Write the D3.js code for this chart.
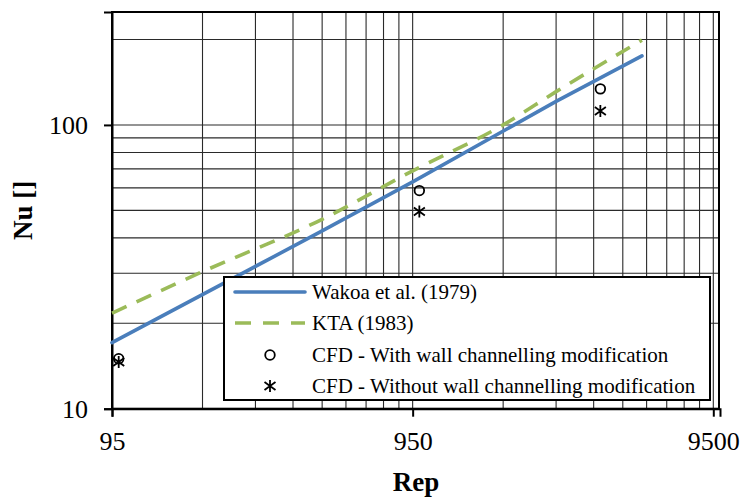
<!DOCTYPE html>
<html>
<head>
<meta charset="utf-8">
<script src="https://cdn.jsdelivr.net/npm/d3@7"></script>
<style>
  html, body { margin: 0; padding: 0; background: #fff; }
  svg { display: block; font-family: "Liberation Serif", "Times New Roman", serif; }
</style>
</head>
<body>
<svg id="chart" width="741" height="498"></svg>
<script>
// Nusselt number vs particle Reynolds number (log-log)
const wakaoRe = [95, 475, 950, 2850, 5500];
const wakaoNu = [17.1, 42.3, 63, 121, 175];

const ktaRe = [95, 190, 475, 950, 1900, 2850, 5500];
const ktaNu = [21.7, 30.4, 46.5, 68.9, 100, 131, 199];

const cfdRe = [100, 1000, 4000];
const cfdWithNu = [15.0, 58.7, 134];
const cfdWithoutNu = [14.6, 49.5, 112];

const xTicks = [95, 950, 9500];
const yTicks = [10, 100];
const xGrid = [1, 2, 3, 4, 5, 6, 7, 8, 9].flatMap(k => [95 * k, 950 * k]).concat([9500]);
const yGrid = [10, 20, 30, 40, 50, 60, 70, 80, 90, 100, 200];

const legendLabels = [
  "Wakoa et al. (1979)",
  "KTA (1983)",
  "CFD - With wall channelling modification",
  "CFD - Without wall channelling modification"
];

const blue = "#4A7EBB";
const green = "#9BBB59";

const svg = d3.select("#chart");
const plotL = 112, plotR = 720, plotT = 12, plotB = 408.7;

const x = d3.scaleLog().domain([95, 10000]).range([plotL, plotR]);
const y = d3.scaleLog().domain([10, 250]).range([plotB, plotT]);

// grid
const grid = svg.append("g");
grid.selectAll("line.v").data(xGrid).join("line")
  .attr("class", "v")
  .attr("x1", d => x(d)).attr("x2", d => x(d))
  .attr("y1", plotT).attr("y2", plotB)
  .attr("stroke", "#2a2a2a").attr("stroke-width", 1.1);
grid.selectAll("line.h").data(yGrid).join("line")
  .attr("class", "h")
  .attr("x1", plotL).attr("x2", plotR)
  .attr("y1", d => y(d)).attr("y2", d => y(d))
  .attr("stroke", "#2a2a2a").attr("stroke-width", 1.1);

// plot frame
svg.append("rect")
  .attr("x", plotL).attr("y", plotT)
  .attr("width", plotR - plotL - 1).attr("height", plotB - plotT)
  .attr("fill", "none").attr("stroke", "#000").attr("stroke-width", 2);

// axes
const xAxis = d3.axisBottom(x).tickValues(xTicks).tickFormat(d3.format("d")).tickSize(8).tickPadding(6);
const yAxis = d3.axisLeft(y).tickValues(yTicks).tickFormat(d3.format("d")).tickSize(8).tickPadding(16);

const gx = svg.append("g").attr("transform", `translate(0,${plotB})`).call(xAxis);
const gy = svg.append("g").attr("transform", `translate(${plotL},0)`).call(yAxis);
[gx, gy].forEach(g => {
  g.attr("font-family", null);
  g.select(".domain").attr("stroke", "#000").attr("stroke-width", 2);
  g.selectAll(".tick line").attr("stroke", "#000").attr("stroke-width", 2);
  g.selectAll(".tick text").attr("fill", "#000")
    .style("font-family", "'Liberation Serif', serif").style("font-size", "26px");
});
gx.selectAll(".tick text").attr("dy", null).attr("y", 41);
gy.selectAll(".tick text").attr("dy", "0.34em");

// correlation lines
const straight = d3.line().x(d => x(d[0])).y(d => y(d[1]));
const smooth = d3.line().x(d => x(d[0])).y(d => y(d[1])).curve(d3.curveMonotoneX);
svg.append("path")
  .datum(d3.zip(wakaoRe, wakaoNu))
  .attr("d", straight).attr("fill", "none")
  .attr("stroke", blue).attr("stroke-width", 3.6).attr("stroke-linecap", "round");
svg.append("path")
  .datum(d3.zip(ktaRe, ktaNu))
  .attr("d", smooth).attr("fill", "none")
  .attr("stroke", green).attr("stroke-width", 3.6)
  .attr("stroke-dasharray", "16,11");

// markers
const starPath = "M0,-6L0,6M-5.5,-4L5.5,4M-5.5,4L5.5,-4";
svg.selectAll("circle.cfd").data(d3.zip(cfdRe, cfdWithNu)).join("circle")
  .attr("class", "cfd")
  .attr("cx", d => x(d[0])).attr("cy", d => y(d[1])).attr("r", 4.8)
  .attr("fill", "none").attr("stroke", "#000").attr("stroke-width", 1.8);
svg.selectAll("path.star").data(d3.zip(cfdRe, cfdWithoutNu)).join("path")
  .attr("class", "star")
  .attr("transform", d => `translate(${x(d[0])},${y(d[1])})`)
  .attr("d", starPath).attr("fill", "none")
  .attr("stroke", "#000").attr("stroke-width", 1.8);

// legend
const lg = svg.append("g");
lg.append("rect").attr("x", 224).attr("y", 277).attr("width", 486).attr("height", 123)
  .attr("fill", "#fff").attr("stroke", "#000").attr("stroke-width", 2);
const rowY = [292, 323, 355, 386];
lg.append("line").attr("x1", 235).attr("x2", 305).attr("y1", rowY[0]).attr("y2", rowY[0])
  .attr("stroke", blue).attr("stroke-width", 3.6).attr("stroke-linecap", "round");
lg.append("line").attr("x1", 235).attr("x2", 305).attr("y1", rowY[1]).attr("y2", rowY[1])
  .attr("stroke", green).attr("stroke-width", 3.6).attr("stroke-dasharray", "16,12");
lg.append("circle").attr("cx", 270).attr("cy", rowY[2]).attr("r", 4.8)
  .attr("fill", "none").attr("stroke", "#000").attr("stroke-width", 1.8);
lg.append("path").attr("transform", `translate(270,${rowY[3]})`).attr("d", starPath)
  .attr("fill", "none").attr("stroke", "#000").attr("stroke-width", 1.8);
lg.selectAll("text").data(legendLabels).join("text")
  .attr("x", 312).attr("y", (d, i) => rowY[i] + 7)
  .style("font-size", "21px").attr("fill", "#000")
  .text(d => d);

// axis titles
svg.append("text").attr("x", (plotL + plotR) / 2).attr("y", 491)
  .attr("text-anchor", "middle").style("font-size", "27px").style("font-weight", "bold")
  .text("Rep");
svg.append("text").attr("transform", `translate(32,${(plotT + plotB) / 2}) rotate(-90)`)
  .attr("text-anchor", "middle").style("font-size", "27px").style("font-weight", "bold")
  .text("Nu []");
</script>
</body>
</html>
